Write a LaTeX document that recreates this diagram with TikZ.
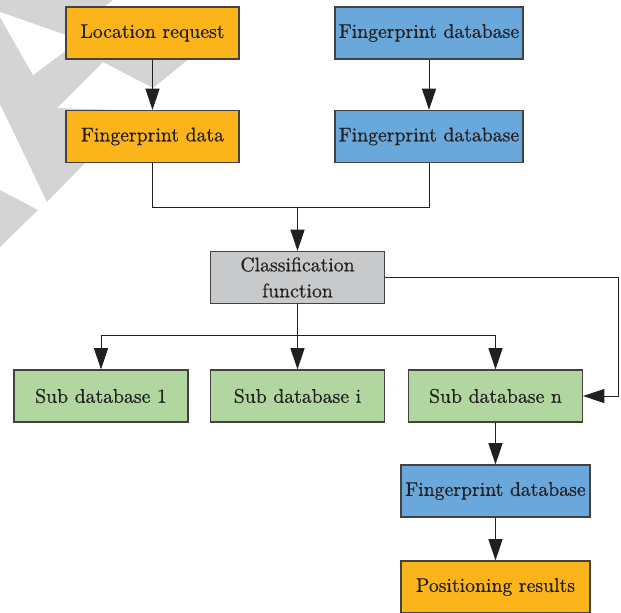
\documentclass[tikz,border=0pt]{standalone}
\usepackage{fontspec}
\setmainfont{lmroman10-regular}[Extension=.otf, FakeBold=0.6]
\usetikzlibrary{arrows.meta}
\definecolor{boxorange}{RGB}{251,180,26}
\definecolor{boxblue}{RGB}{106,168,219}
\definecolor{boxgreen}{RGB}{177,214,160}
\definecolor{boxgray}{RGB}{200,201,203}
\definecolor{wmgray}{RGB}{212,212,212}
\definecolor{ink}{RGB}{35,31,32}
\begin{document}
\begin{tikzpicture}[>={Triangle[length=16pt,width=10.5pt]}, x=0.75pt, y=-0.75pt,
    blk/.style={draw=ink!85, line width=0.8pt, text=ink, inner sep=0pt, minimum height=39pt,
      font=\fontsize{14.8}{19.5}\selectfont, align=center},
    conn/.style={ink, line width=0.75pt}]
    \useasboundingbox (0,0) rectangle (621,612);
    \fill[wmgray] (0,0) -- (113,0) -- (100,10) -- (190,58) -- (153,88) -- (103,62) -- (57,108)
      -- (120,110) -- (85,163) -- (47,202) -- (0,104) -- cycle;
    \fill[white] (0,12) -- (80,40) -- (33,75) -- (0,17) -- cycle;
    \fill[wmgray] (0,190) -- (38,210) -- (0,247) -- cycle;

    \node[blk, fill=boxorange, minimum width=129.75pt] (loc) at (152.5,33) {Location request};
    \node[blk, fill=boxorange, minimum width=129.75pt] (fpdata) at (152.5,136.5) {Fingerprint data};
    \node[blk, fill=boxblue, minimum width=141pt] (fdbA) at (429,33) {Fingerprint database};
    \node[blk, fill=boxblue, minimum width=141pt] (fdbB) at (429,136.5) {Fingerprint database};
    \node[blk, fill=boxgray, minimum width=130.5pt] (classf) at (297.5,277.5) {Classification\\function};
    \node[blk, fill=boxgreen, minimum width=130.5pt] (sub1) at (101,396) {Sub database 1};
    \node[blk, fill=boxgreen, minimum width=130.5pt] (subi) at (297.5,396) {Sub database i};
    \node[blk, fill=boxgreen, minimum width=130.5pt] (subn) at (495.5,396) {Sub database n};
    \node[blk, fill=boxblue, minimum width=141.75pt] (fdbC) at (495.5,491) {Fingerprint database};
    \node[blk, fill=boxorange, minimum width=141.75pt] (pos) at (495.5,587) {Positioning results};

    \coordinate (join) at (297.5,207);
    \coordinate (split) at (297.5,335);
    \coordinate (turn) at (618,277.5);

    \draw[conn, ->] (loc) -- (fpdata);
    \draw[conn, ->] (fdbA) -- (fdbB);
    \draw[conn] (fpdata) |- (join);
    \draw[conn] (fdbB) |- (join);
    \draw[conn, ->] (join) -- (classf);
    \draw[conn] (classf) -- (split);
    \draw[conn, ->] (split) -| (sub1);
    \draw[conn, ->] (split) -- (subi);
    \draw[conn, ->] (split) -| (subn);
    \draw[conn, ->] (classf) -- (turn) |- (subn);
    \draw[conn, ->] (subn) -- (fdbC);
    \draw[conn, ->] (fdbC) -- (pos);
\end{tikzpicture}
\end{document}
